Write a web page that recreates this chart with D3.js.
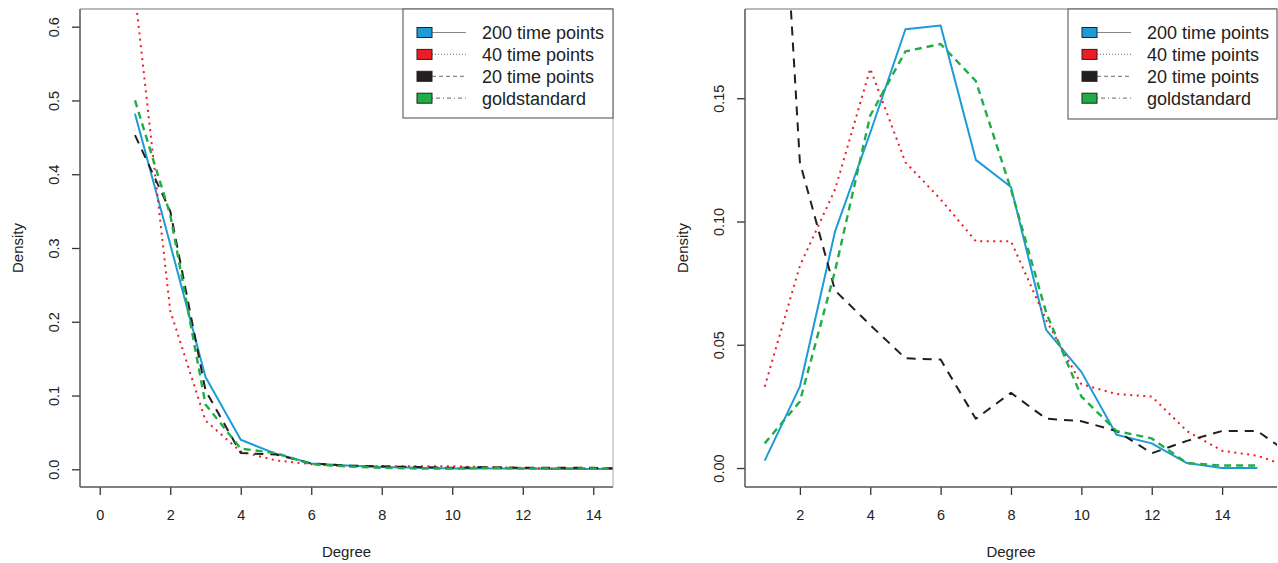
<!DOCTYPE html>
<html>
<head>
<meta charset="utf-8">
<script src="https://cdn.jsdelivr.net/npm/d3@7"></script>
<style>
  html, body { margin: 0; padding: 0; background: #fff; }
  svg { display: block; font-family: "Liberation Sans", Arial, Helvetica, sans-serif; }
</style>
</head>
<body>
<svg id="chart" width="1278" height="563"></svg>
<script>
// Degree distributions: left panel (degrees 1..15)
const leftDegrees = [1, 2, 3, 4, 5, 6, 7, 8, 9, 10, 11, 12, 13, 14, 15];
const left200 = [0.482, 0.305, 0.125, 0.040, 0.021, 0.008, 0.005, 0.003, 0.002, 0.001, 0.001, 0.001, 0.0005, 0.0003, 0.0002];
const left40 = [0.645, 0.215, 0.066, 0.024, 0.012, 0.007, 0.004, 0.004, 0.004, 0.004, 0.003, 0.002, 0.001, 0.001, 0.0005];
const left20 = [0.453, 0.350, 0.107, 0.022, 0.020, 0.008, 0.005, 0.004, 0.003, 0.002, 0.003, 0.002, 0.002, 0.002, 0.001];
const leftGold = [0.500, 0.345, 0.088, 0.028, 0.022, 0.007, 0.004, 0.002, 0.001, 0.001, 0.002, 0.001, 0.001, 0.001, 0.001];

// Right panel (degrees 1..16)
const rightDegrees = [1, 2, 3, 4, 5, 6, 7, 8, 9, 10, 11, 12, 13, 14, 15, 16];
const right200 = [0.003, 0.033, 0.096, 0.136, 0.178, 0.1795, 0.125, 0.114, 0.056, 0.039, 0.0135, 0.010, 0.002, 0.000, 0.000];
const right40 = [0.033, 0.082, 0.113, 0.162, 0.124, 0.109, 0.092, 0.092, 0.060, 0.034, 0.030, 0.029, 0.015, 0.007, 0.005, 0.000];
const right20 = [0.367, 0.124, 0.072, 0.058, 0.0445, 0.044, 0.020, 0.0305, 0.020, 0.019, 0.015, 0.006, 0.011, 0.015, 0.015, 0.005];
const rightGold = [0.010, 0.027, 0.080, 0.143, 0.169, 0.172, 0.157, 0.113, 0.063, 0.029, 0.015, 0.012, 0.002, 0.001, 0.001];

const legendLabels = ["200 time points", "40 time points", "20 time points", "goldstandard"];
const leftXTicks = [0, 2, 4, 6, 8, 10, 12, 14];
const leftYTicks = [0, 0.1, 0.2, 0.3, 0.4, 0.5, 0.6];
const rightXTicks = [2, 4, 6, 8, 10, 12, 14];
const rightYTicks = [0, 0.05, 0.10, 0.15];

// Styling for each series, in legend order
const seriesStyle = [
  { color: "#1e9bd7", dash: null, width: 2, legendDash: null },
  { color: "#ee1c25", dash: "2 4.5", width: 2, legendDash: "1 2" },
  { color: "#231f20", dash: "9 7", width: 2, legendDash: "4 3" },
  { color: "#20ad48", dash: "7 5", width: 2.4, legendDash: "1 3 4 3" }
];

const svg = d3.select("#chart");

function panel(cfg) {
  const { id, left, right, top, bottom, xDomain, yDomain, xTicks, yTicks, yFmt, series, legendBox, drawRightBorder } = cfg;
  const x = d3.scaleLinear().domain(xDomain).range([left, right]);
  const y = d3.scaleLinear().domain(yDomain).range([bottom, top]);
  const g = svg.append("g");

  g.append("clipPath").attr("id", id)
    .append("rect").attr("x", left).attr("y", top).attr("width", right - left).attr("height", bottom - top);

  // data lines
  const line = d3.line().x(d => x(d[0])).y(d => y(d[1]));
  const lines = g.append("g").attr("clip-path", `url(#${id})`);
  series.forEach((s, i) => {
    const st = seriesStyle[i];
    const pts = s.values.map((v, k) => [s.degrees[k], v]);
    lines.append("path")
      .attr("d", line(pts))
      .attr("fill", "none")
      .attr("stroke", st.color)
      .attr("stroke-width", st.width)
      .attr("stroke-dasharray", st.dash)
      .attr("stroke-linejoin", "round");
  });

  // x axis
  const xa = g.append("g").attr("transform", `translate(0,${bottom})`)
    .call(d3.axisBottom(x).tickValues(xTicks).tickSize(8).tickFormat(d3.format("d")));
  xa.select(".domain").remove();
  xa.selectAll(".tick line").attr("stroke", "#333").attr("stroke-width", 1.3);
  xa.selectAll(".tick text").attr("y", 28).attr("dy", "0.35em")
    .attr("font-size", 14.5).attr("fill", "#222").attr("font-family", "Liberation Sans, Arial, sans-serif");

  // y axis with rotated labels
  const ya = g.append("g").attr("transform", `translate(${left},0)`)
    .call(d3.axisLeft(y).tickValues(yTicks).tickSize(8).tickFormat(yFmt));
  ya.select(".domain").remove();
  ya.selectAll(".tick line").attr("stroke", "#333").attr("stroke-width", 1.3);
  ya.selectAll(".tick text")
    .attr("x", 0).attr("dy", null).attr("y", 0)
    .attr("transform", "translate(-26.5,0) rotate(-90)")
    .attr("text-anchor", "middle")
    .attr("dominant-baseline", "central")
    .attr("font-size", 14.5).attr("fill", "#222").attr("font-family", "Liberation Sans, Arial, sans-serif");

  // frame
  g.append("line").attr("x1", left).attr("x2", left).attr("y1", top).attr("y2", bottom)
    .attr("stroke", "#555").attr("stroke-width", 1.5);
  g.append("line").attr("x1", left).attr("x2", right).attr("y1", bottom).attr("y2", bottom)
    .attr("stroke", "#555").attr("stroke-width", 1.5);
  g.append("line").attr("x1", left).attr("x2", right).attr("y1", top).attr("y2", top)
    .attr("stroke", "#777").attr("stroke-width", 1.2);
  if (drawRightBorder) {
    g.append("line").attr("x1", right).attr("x2", right).attr("y1", top).attr("y2", bottom)
      .attr("stroke", "#aaa").attr("stroke-width", 1);
  }

  // axis titles
  g.append("text").attr("x", (left + right) / 2).attr("y", 552).attr("dy", "0.35em")
    .attr("text-anchor", "middle").attr("font-size", 15).attr("fill", "#222").text("Degree");
  g.append("text").attr("transform", `translate(${left - 63},${(top + bottom) / 2}) rotate(-90)`)
    .attr("text-anchor", "middle").attr("dominant-baseline", "central")
    .attr("font-size", 15).attr("fill", "#222").text("Density");

  // legend
  const lg = g.append("g");
  lg.append("rect").attr("x", legendBox.x).attr("y", legendBox.y)
    .attr("width", legendBox.w).attr("height", legendBox.h)
    .attr("fill", "#fff").attr("stroke", "#666").attr("stroke-width", 1.2);
  legendLabels.forEach((lab, i) => {
    const cy = legendBox.y + 23.5 + i * 21.9;
    const sx = legendBox.x + 14;
    const st = seriesStyle[i];
    lg.append("line").attr("x1", sx + 15).attr("x2", sx + 49).attr("y1", cy).attr("y2", cy)
      .attr("stroke", "#888").attr("stroke-width", 1.2).attr("stroke-dasharray", st.legendDash);
    lg.append("rect").attr("x", sx).attr("y", cy - 5).attr("width", 15).attr("height", 10)
      .attr("fill", st.color).attr("stroke", "#222").attr("stroke-width", 1);
    lg.append("text").attr("x", legendBox.x + 79).attr("y", cy).attr("dy", "0.35em")
      .attr("font-size", 18).attr("fill", "#222").text(lab);
  });
}

panel({
  id: "clipLeft",
  left: 80, right: 613, top: 9, bottom: 487,
  xDomain: [-0.56, 14.56], yDomain: [-0.024, 0.624],
  xTicks: leftXTicks, yTicks: leftYTicks, yFmt: d3.format(".1f"),
  series: [
    { degrees: leftDegrees, values: left200 },
    { degrees: leftDegrees, values: left40 },
    { degrees: leftDegrees, values: left20 },
    { degrees: leftDegrees, values: leftGold }
  ],
  legendBox: { x: 403, y: 9, w: 210, h: 109 },
  drawRightBorder: true
});

panel({
  id: "clipRight",
  left: 745, right: 1277, top: 9, bottom: 487,
  xDomain: [0.44, 15.56], yDomain: [-0.0077, 0.1862],
  xTicks: rightXTicks, yTicks: rightYTicks, yFmt: d3.format(".2f"),
  series: [
    { degrees: rightDegrees, values: right200 },
    { degrees: rightDegrees, values: right40 },
    { degrees: rightDegrees, values: right20 },
    { degrees: rightDegrees, values: rightGold }
  ],
  legendBox: { x: 1068, y: 9, w: 209, h: 110 },
  drawRightBorder: false
});
</script>
</body>
</html>
